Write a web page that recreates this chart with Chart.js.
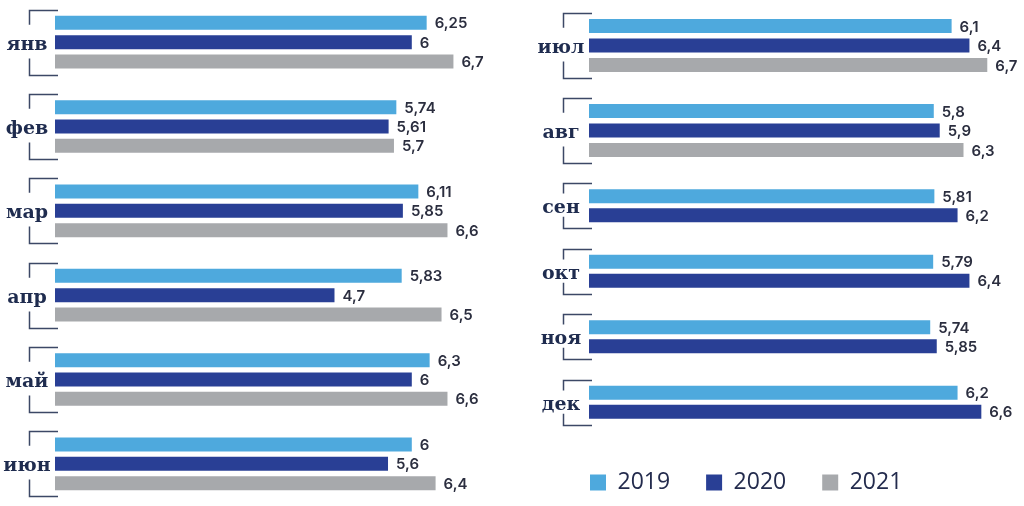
<!DOCTYPE html>
<html>
<head>
<meta charset="utf-8">
<script src="https://cdn.jsdelivr.net/npm/chart.js@4.4.0/dist/chart.umd.min.js"></script>
<style>
  html, body { margin: 0; padding: 0; background: #fff; overflow: hidden; }
  #wrap { position: relative; width: 1024px; height: 506px; }
  canvas { position: absolute; }
</style>
</head>
<body>
<div id="wrap">
  <canvas id="cLeft" width="520" height="506" style="left:0;top:0"></canvas>
  <canvas id="cTop" width="504" height="173" style="left:520px;top:0"></canvas>
  <canvas id="cBottom" width="504" height="333" style="left:520px;top:173px"></canvas>
</div>
<script>
// data
const years = ['2019', '2020', '2021'];

const monthsA = ['янв', 'фев', 'мар', 'апр', 'май', 'июн'];
const a2019 = [6.25, 5.74, 6.11, 5.83, 6.3, 6];
const a2020 = [6, 5.61, 5.85, 4.7, 6, 5.6];
const a2021 = [6.7, 5.7, 6.6, 6.5, 6.6, 6.4];

const monthsB = ['июл', 'авг'];
const b2019 = [6.1, 5.8];
const b2020 = [6.4, 5.9];
const b2021 = [6.7, 6.3];

const monthsC = ['сен', 'окт', 'ноя', 'дек'];
const c2019 = [5.81, 5.79, 5.74, 6.2];
const c2020 = [6.2, 6.4, 5.85, 6.6];
const c2021 = [null, null, null, null];

const colors = ['#4ea9dd', '#293f95', '#a7a9ac'];
const navy = '#1f2c4f';

// value labels + brackets with month names
const decorPlugin = {
    id: 'decor',
    afterDatasetsDraw(chart) {
        const ctx = chart.ctx;
        const left = chart.chartArea.left;
        const metas = chart.getSortedVisibleDatasetMetas();
        ctx.save();

        // values at the end of the bars
        ctx.font = '600 15px Inter';
        ctx.fillStyle = '#2b2e3f';
        ctx.textAlign = 'left';
        ctx.textBaseline = 'middle';
        metas.forEach(m => {
            const data = chart.data.datasets[m.index].data;
            m.data.forEach((el, i) => {
                if (data[i] == null) return;
                ctx.fillText(String(data[i]).replace('.', ','), el.x + 8, el.y + 1);
            });
        });

        // brackets
        const bx = Math.round(left - 26) + 0.5;
        chart.data.labels.forEach((lbl, i) => {
            let top = Infinity, bottom = -Infinity;
            metas.forEach(m => {
                if (chart.data.datasets[m.index].data[i] == null) return;
                const el = m.data[i];
                top = Math.min(top, el.y - el.height / 2);
                bottom = Math.max(bottom, el.y + el.height / 2);
            });
            top = Math.round(top - 6) + 0.5;
            bottom = Math.round(bottom + 6) + 0.5;
            const h = bottom - top;
            const mid = (top + bottom) / 2;
            ctx.strokeStyle = '#3c4866';
            ctx.lineWidth = 1.5;
            ctx.beginPath();
            ctx.moveTo(left + 3, top);
            ctx.lineTo(bx, top);
            ctx.lineTo(bx, mid - 0.28 * h);
            ctx.moveTo(bx, mid + 0.24 * h);
            ctx.lineTo(bx, bottom);
            ctx.lineTo(left + 3, bottom);
            ctx.stroke();

            ctx.font = 'bold 19px "DejaVu Serif"';
            ctx.fillStyle = navy;
            ctx.textAlign = 'center';
            ctx.textBaseline = 'middle';
            ctx.fillText(lbl, left - 28, mid + 2);
        });
        ctx.restore();
    }
};

let makeChart = (id, labels, series, opts) => {
    let ctx = document.getElementById(id).getContext('2d');
    return new Chart(ctx, {
        type: 'bar',
        data: {
            labels: labels,
            datasets: series.map((s, k) => ({
                label: years[k],
                data: s,
                backgroundColor: colors[k],
                borderWidth: 0,
                categoryPercentage: opts.cat,
                barPercentage: opts.bar,
                skipNull: true
            }))
        },
        options: {
            indexAxis: 'y',
            responsive: false,
            animation: false,
            events: [],
            layout: { padding: opts.padding },
            scales: {
                x: { display: false, min: 0, max: opts.max },
                y: {
                    display: true,
                    grid: { display: false, drawTicks: false },
                    border: { display: false },
                    ticks: { display: false },
                    afterFit: (s) => { s.width = opts.yWidth; }
                }
            },
            plugins: {
                legend: opts.legend || { display: false },
                tooltip: { enabled: false }
            }
        },
        plugins: [decorPlugin]
    });
};

makeChart('cLeft', monthsA, [a2019, a2020, a2021], {
    cat: 0.688, bar: 0.725, max: 7.5, yWidth: 55,
    padding: { left: 0, right: 19, top: 0, bottom: 0 }
});

makeChart('cTop', monthsB, [b2019, b2020, b2021], {
    cat: 0.688, bar: 0.725, max: 7.2, yWidth: 69,
    padding: { left: 0, right: 7, top: 3, bottom: 0 }
});

makeChart('cBottom', monthsC, [c2019, c2020, c2021], {
    cat: 0.58, bar: 0.737, max: 7.2, yWidth: 35,
    padding: { left: 34, right: 7, top: 0, bottom: 2 },
    legend: {
        display: true,
        position: 'bottom',
        align: 'start',
        labels: {
            boxWidth: 16,
            boxHeight: 16,
            padding: 36,
            color: '#232b4d',
            font: { family: 'Open Sans', size: 23 }
        }
    }
});
</script>
</body>
</html>
